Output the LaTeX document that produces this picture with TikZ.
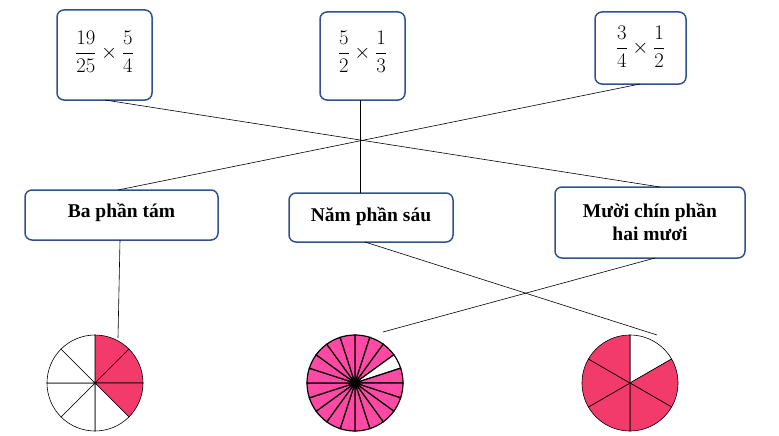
\documentclass[tikz,border=0pt]{standalone}
\usepackage{amsmath}
\usepackage{fontspec}
\setmainfont{Liberation Serif}
\begin{document}
\begin{tikzpicture}[x=1pt,y=-1pt,
 box/.style={draw=bordc, line width=1.5pt, rounded corners=7pt},
 lbl/.style={font=\bfseries\fontsize{19.5}{23}\selectfont, align=center},
 frac/.style={font=\fontsize{21}{25}\selectfont},
 ln/.style={line width=0.6pt},
 sec/.style={draw=black, line width=0.6pt}]
\definecolor{bordc}{HTML}{2F528F}
\definecolor{redp}{HTML}{F23B6B}
\definecolor{pinkp}{HTML}{FF4AA5}
\useasboundingbox (0,0) rectangle (779,436);
% top boxes
\draw[box] (57,10) rectangle (152,100); \node[frac] (t1) at (104.5,52) {$\dfrac{19}{25}\times\dfrac{5}{4}$};
\draw[box] (320,12) rectangle (405,100); \node[frac] (t2) at (362.5,52) {$\dfrac{5}{2}\times\dfrac{1}{3}$};
\draw[box] (595,12) rectangle (686,84); \node[frac] (t3) at (640.5,47) {$\dfrac{3}{4}\times\dfrac{1}{2}$};
% middle boxes
\draw[box] (25,190) rectangle (218,240); \node[lbl] (m1) at (121.5,212) {Ba phần tám};
\draw[box] (289,193) rectangle (453,242); \node[lbl] (m2) at (371,216) {Năm phần sáu};
\draw[box] (555,187) rectangle (745,258); \node[lbl] (m3) at (650,222) {Mười chín phần\\hai mươi};
% connectors
\coordinate (a1) at (105,100); \coordinate (a2) at (660,187);
\coordinate (b1) at (640,84); \coordinate (b2) at (118,190);
\coordinate (c1) at (360,100); \coordinate (c2) at (360,193);
\coordinate (d1) at (120,240); \coordinate (d2) at (118,338);
\coordinate (e1) at (365,242); \coordinate (e2) at (657,335);
\coordinate (f1) at (655,258); \coordinate (f2) at (383,332);
\draw[ln] (a1)--(a2); \draw[ln] (b1)--(b2); \draw[ln] (c1)--(c2);
\draw[ln] (d1)--(d2); \draw[ln] (e1)--(e2); \draw[ln] (f1)--(f2);
% left circle 8 parts
\coordinate (L) at (95,383);
\foreach \i in {0,...,7}{
 \pgfmathsetmacro\s{-90+45*\i}\pgfmathsetmacro\e{-45+45*\i}
 \ifnum\i<3 \def\fc{redp}\else\def\fc{white}\fi
 \filldraw[sec,fill=\fc] (L) -- +(\s:48) arc[start angle=\s,end angle=\e,radius=48] -- cycle;}
% middle circle 20 parts
\coordinate (M) at (355,383);
\foreach \i in {0,...,19}{
 \pgfmathsetmacro\s{-90+18*\i}\pgfmathsetmacro\e{-72+18*\i}
 \ifnum\i=3 \def\fc{white}\else\def\fc{pinkp}\fi
 \filldraw[sec,fill=\fc,line width=1.2pt] (M) -- +(\s:48) arc[start angle=\s,end angle=\e,radius=48] -- cycle;}
% right circle 6 parts
\coordinate (R) at (630,383);
\foreach \i in {0,...,5}{
 \pgfmathsetmacro\s{-90+60*\i}\pgfmathsetmacro\e{-30+60*\i}
 \ifnum\i=0 \def\fc{white}\else\def\fc{redp}\fi
 \filldraw[sec,fill=\fc] (R) -- +(\s:48) arc[start angle=\s,end angle=\e,radius=48] -- cycle;}
\end{tikzpicture}
\end{document}
